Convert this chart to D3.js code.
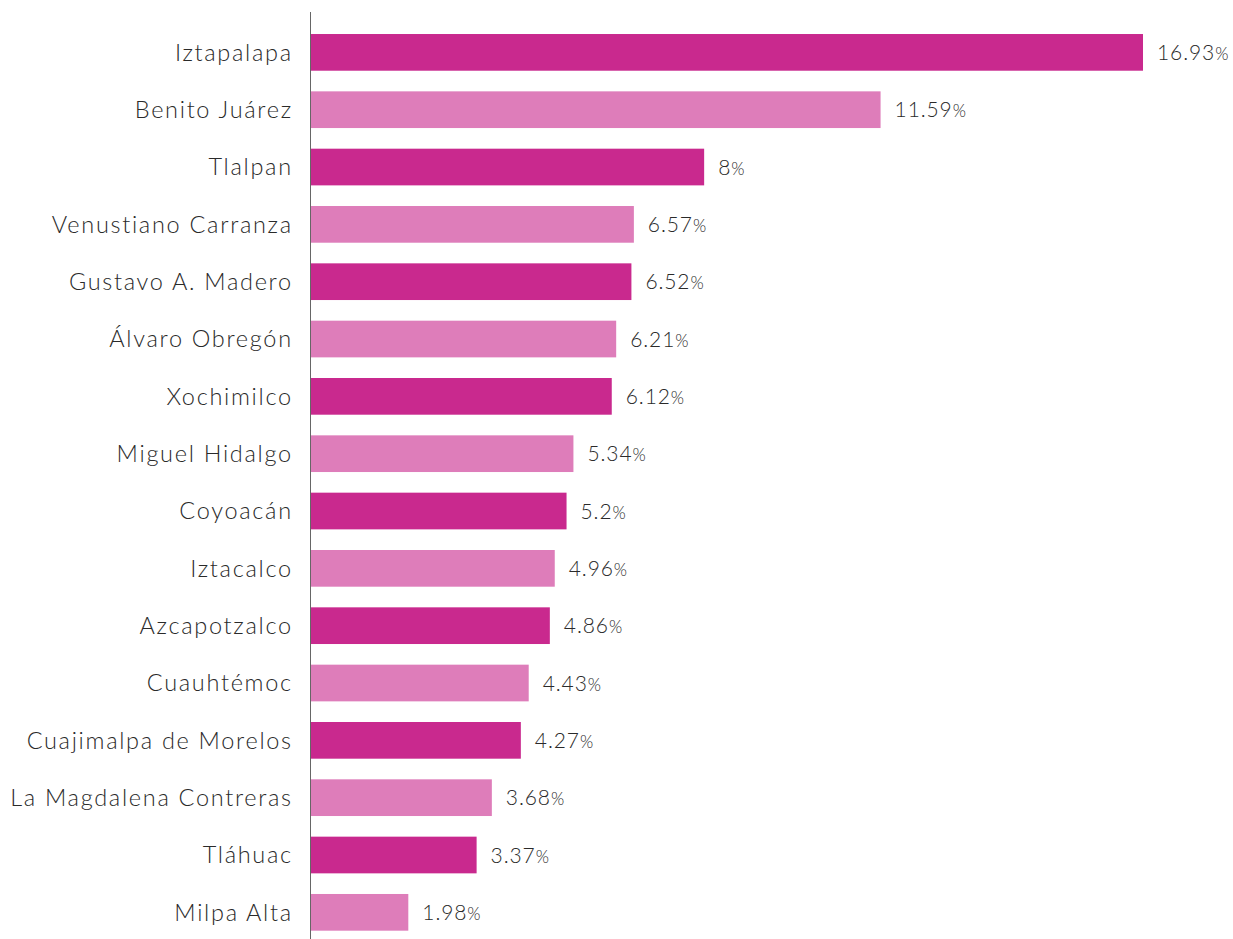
<!DOCTYPE html>
<html><head><meta charset="utf-8">
<script src="https://cdn.jsdelivr.net/npm/d3@7"></script>
<style>body{margin:0;background:#fff}svg{display:block}</style>
</head><body>
<svg id="chart" width="1233" height="939"></svg>
<script>
const categories = ["Iztapalapa","Benito Juárez","Tlalpan","Venustiano Carranza","Gustavo A. Madero","Álvaro Obregón","Xochimilco","Miguel Hidalgo","Coyoacán","Iztacalco","Azcapotzalco","Cuauhtémoc","Cuajimalpa de Morelos","La Magdalena Contreras","Tláhuac","Milpa Alta"];
const values = [16.93,11.59,8,6.57,6.52,6.21,6.12,5.34,5.2,4.96,4.86,4.43,4.27,3.68,3.37,1.98];
const valueLabels = ["16.93","11.59","8","6.57","6.52","6.21","6.12","5.34","5.2","4.96","4.86","4.43","4.27","3.68","3.37","1.98"];
const colors = ["#c9298e","#de7dba"];

const svg = d3.select("#chart");
const x0 = 311;
const x = d3.scaleLinear().domain([0, 16.93]).range([x0, 1143]);
const y = d3.scaleBand().domain(categories).range([23.7, 941]).paddingInner(0.36).paddingOuter(0.18);

svg.selectAll("rect.bar").data(categories).join("rect")
  .attr("class","bar")
  .attr("x", x(0))
  .attr("y", d => y(d))
  .attr("width", (d,i) => x(values[i]) - x(0))
  .attr("height", y.bandwidth())
  .attr("fill", (d,i) => colors[i % 2]);

svg.append("line").attr("x1", 310.5).attr("x2", 310.5).attr("y1", 12).attr("y2", 939)
  .attr("stroke", "#666").attr("stroke-width", 1);

const font = "Lato, 'Open Sans', sans-serif";
svg.selectAll("text.cat").data(categories).join("text")
  .attr("class","cat")
  .attr("x", 292.8)
  .attr("y", d => y(d) + y.bandwidth()/2)
  .attr("dy", "0.36em")
  .attr("text-anchor","end")
  .attr("font-family", font)
  .attr("font-weight", 300)
  .attr("font-size", 23.5)
  .attr("letter-spacing", "1.7px")
  .attr("fill", "#2a2a2a")
  .text(d => d);

const vl = svg.selectAll("text.val").data(categories).join("text")
  .attr("class","val")
  .attr("x", (d,i) => x(values[i]) + 14)
  .attr("y", d => y(d) + y.bandwidth()/2)
  .attr("dy", "0.36em")
  .attr("font-family", font)
  .attr("font-weight", 300)
  .attr("font-size", 21)
  .attr("letter-spacing", "0.9px")
  .attr("fill", "#2a2a2a");
vl.append("tspan").text((d,i) => valueLabels[i]);
vl.append("tspan").attr("font-size", 17).text("%");
</script>
</body></html>
